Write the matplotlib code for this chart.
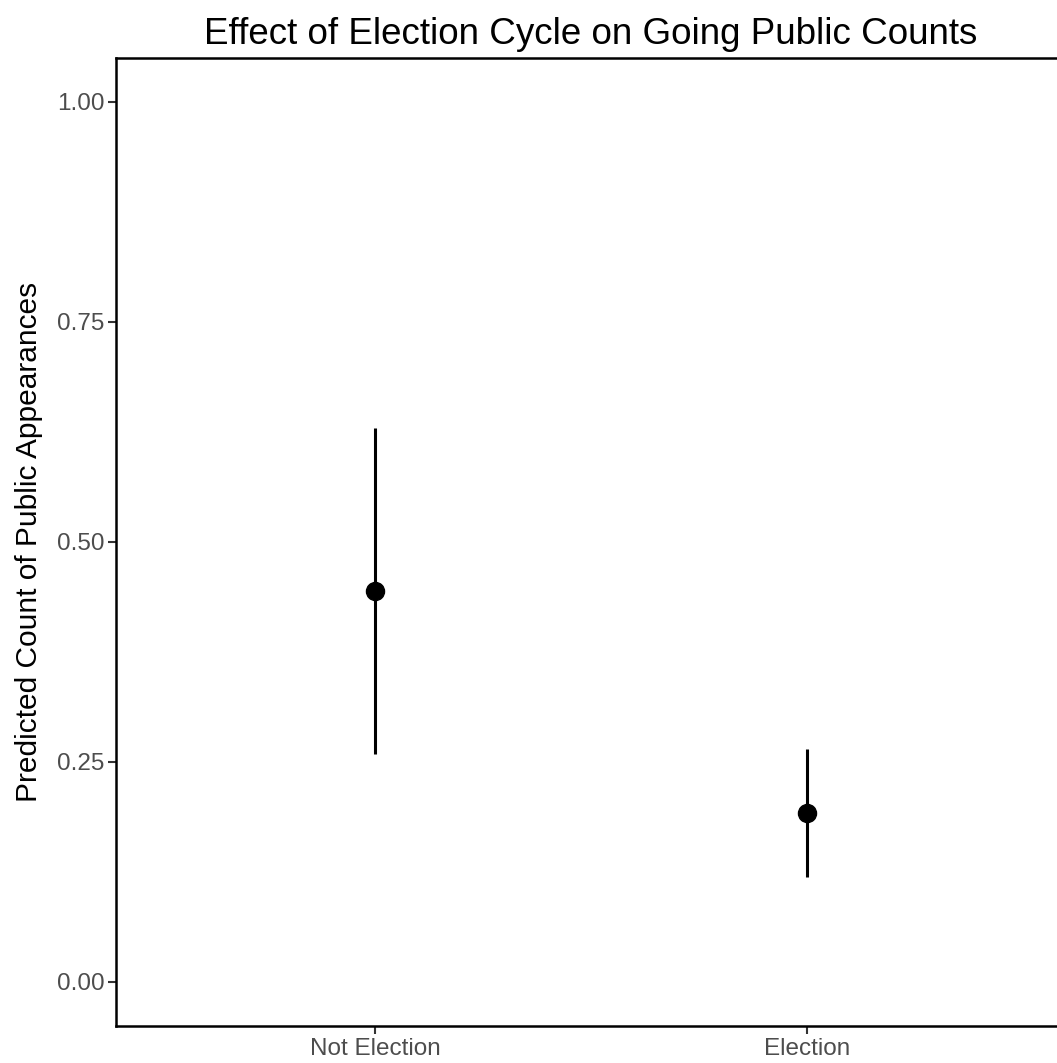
import matplotlib
matplotlib.use("Agg")
import matplotlib.pyplot as plt

# Predicted counts with confidence intervals by election cycle
categories = ["Not Election", "Election"]
estimates = [0.444, 0.1925]
lower = [0.2588, 0.1193]
upper = [0.630, 0.2652]
y_ticks = [0.00, 0.25, 0.50, 0.75, 1.00]

plt.rcParams["font.family"] = ["Liberation Sans", "DejaVu Sans"]

W, H = 1057, 1063
fig = plt.figure(figsize=(W / 100, H / 100), dpi=100)
left, right, top, bottom = 116, 1066, 58, 1026
ax = fig.add_axes([left / W, 1 - bottom / H, (right - left) / W, (bottom - top) / H])

x = list(range(1, len(categories) + 1))
yerr = [[e - l for e, l in zip(estimates, lower)],
        [u - e for e, u in zip(estimates, upper)]]
ax.errorbar(x, estimates, yerr=yerr, fmt="o", color="black",
            markersize=13, elinewidth=2.2, capsize=0, zorder=3)

ax.set_xlim(0.4, 2.6)
ax.set_ylim(-0.05, 1.05)
ax.set_xticks(x)
ax.set_xticklabels(categories)
ax.set_yticks(y_ticks)
ax.set_yticklabels([f"{v:.2f}" for v in y_ticks])

for side in ["left", "bottom", "top", "right"]:
    ax.spines[side].set_linewidth(1.8)
    ax.spines[side].set_color("black")

ax.tick_params(axis="both", length=5.5, width=1.5, color="#333333",
               labelsize=17.5, labelcolor="#4D4D4D", pad=3)

ax.set_ylabel("Predicted Count of Public Appearances", fontsize=21.5,
              color="black", labelpad=10)
ax.set_title("Effect of Election Cycle on Going Public Counts", fontsize=26.5,
             color="black", pad=10)

fig.savefig("out.png", dpi=100)
